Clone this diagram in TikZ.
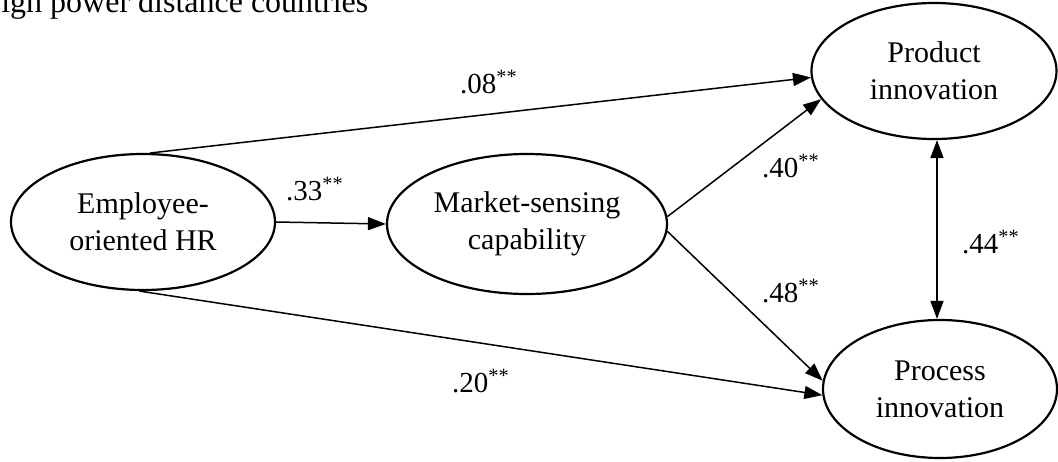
\documentclass[tikz,border=0pt]{standalone}
\usepackage{fontspec}
\setmainfont{Liberation Serif}
\usetikzlibrary{arrows.meta,shapes.geometric,calc}
\tikzset{
  lat/.style={draw, ellipse, line width=2.2pt, inner sep=0pt, align=center,
    font=\fontsize{30}{37}\selectfont},
  path/.style={line width=1.5pt, -{Triangle[length=18pt,width=13pt]}},
  dpath/.style={line width=1.5pt, {Triangle[length=18pt,width=13pt]}-{Triangle[length=18pt,width=13pt]}},
  coef/.style={anchor=base west, inner sep=0pt, font=\fontsize{29}{34}\selectfont}
}
\begin{document}
\begin{tikzpicture}[x=1pt,y=-1pt]
\useasboundingbox (0,0) rectangle (1058,461);
\clip (0,0) rectangle (1058,461);
\node[anchor=base west, inner sep=0pt, font=\fontsize{32}{36}\selectfont] (title) at (-22,12) {High power distance countries};
\node[lat, minimum width=264pt, minimum height=136pt] (ehr) at (143,222) {Employee-\\oriented HR};
\node[lat, minimum width=280pt, minimum height=140pt] (msc) at (527,224) {Market-sensing\\capability};
\node[lat, minimum width=245pt, minimum height=136pt] (prod) at (934,71) {Product\\innovation};
\node[lat, minimum width=234pt, minimum height=138pt] (proc) at (940,389) {Process\\innovation};
\coordinate (v) at (937,0);
\draw[path] (ehr.84) -- (prod.183);
\draw[path] (ehr.east) -- (msc.west);
\draw[path] (msc.3) -- (prod.194);
\draw[path] (msc.357) -- (proc.176);
\draw[path] (ehr.267) -- (proc.183);
\draw[dpath] (v |- prod.south) -- (v |- proc.north);
\node[coef] (l08) at (460,93) {.08\textsuperscript{**}};
\node[coef] (l33) at (286,200) {.33\textsuperscript{**}};
\node[coef] (l40) at (762,177) {.40\textsuperscript{**}};
\node[coef] (l48) at (762,302) {.48\textsuperscript{**}};
\node[coef] (l44) at (962,253) {.44\textsuperscript{**}};
\node[coef] (l20) at (452,392) {.20\textsuperscript{**}};
\end{tikzpicture}
\end{document}
